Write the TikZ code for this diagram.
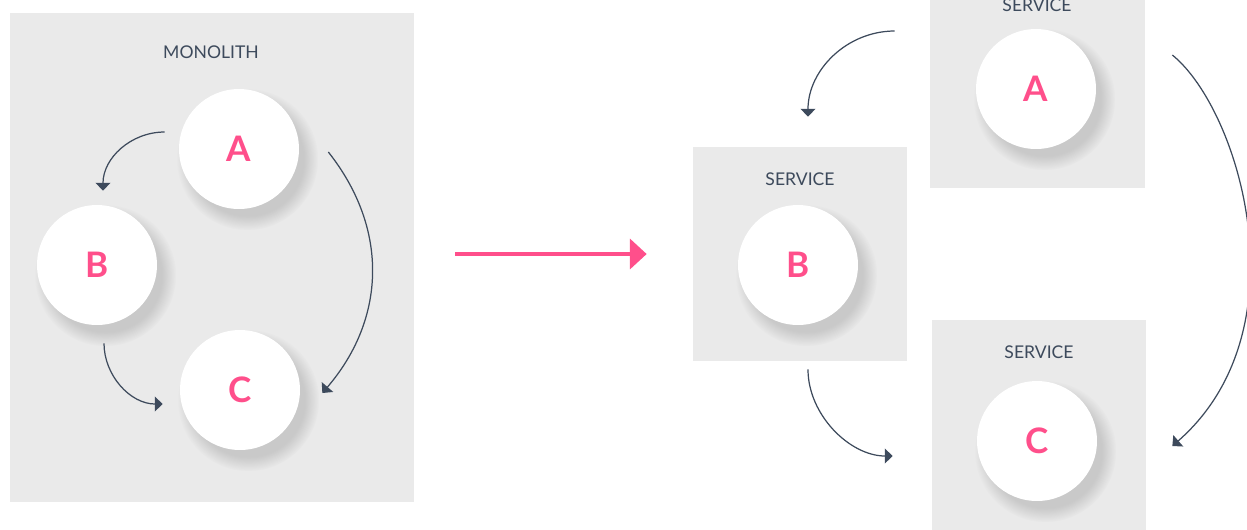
\documentclass[tikz,border=0pt]{standalone}
\usepackage{fontspec}
\setmainfont{Lato}
\definecolor{boxgray}{RGB}{234, 234, 234}
\definecolor{inkslate}{RGB}{61, 74, 92}
\definecolor{hotpink}{RGB}{255, 79, 139}
\usetikzlibrary{shapes, arrows.meta, positioning, calc, shadows, fadings}

\begin{document}
\begin{tikzpicture}[x=0.02cm, y=-0.02cm,
  panel/.style={fill=boxgray, inner sep=0pt},
  tag/.style={font=\fontsize{10}{12}\selectfont, text=inkslate},
  part/.style={circle, fill=white, minimum size=2.4cm, inner sep=0pt, text=hotpink,
    font=\fontsize{20}{24}\selectfont\bfseries,
    circular drop shadow={shadow xshift=4pt, shadow yshift=-5pt, shadow scale=1.18,
      opacity=.3, path fading={circle with fuzzy edge 20 percent}}},
  flow/.style={draw=inkslate, line width=0.7pt, -{Triangle[width=8.5pt, length=4.5pt]}},
  split/.style={draw=hotpink, line width=2pt, -{Triangle[width=17pt, length=9.5pt]}}]
  \clip (0, 0) rectangle (1247, 529);

  % The monolith
  \node[panel, minimum width=8.08cm, minimum height=9.78cm] (mono) at (212, 257.5) {};
  \node[tag] (monotag) at (211, 52) {MONOLITH};
  \node[part] (mA) at (239, 149) {A};
  \node[part] (mB) at (97, 265) {B};
  \node[part] (mC) at (240, 390) {C};

  \draw[flow] ([shift={(-14,-17)}]mA.west) .. controls (131, 132) and (103, 158) .. ([shift={(6,-14)}]mB.north);
  \draw[flow] ([shift={(29,3)}]mA.east) .. controls (390, 230) and (385, 320) .. ([shift={(22,3)}]mC.east);
  \draw[flow] ([shift={(7,18)}]mB.south) .. controls (104, 375) and (130, 404) .. ([shift={(-17,14)}]mC.west);

  % The services
  \node[panel, minimum size=4.28cm] (boxB) at (800, 254) {};
  \node[panel, minimum size=4.3cm] (boxA) at (1037.5, 80.5) {};
  \node[panel, minimum size=4.3cm] (boxC) at (1039, 427.5) {};
  \node[tag] (tagB) at (800, 179) {SERVICE};
  \node[tag] (tagA) at (1037, 5) {SERVICE};
  \node[tag] (tagC) at (1039, 352) {SERVICE};
  \node[part] (sA) at (1036, 89) {A};
  \node[part] (sB) at (798, 265) {B};
  \node[part] (sC) at (1037, 441) {C};

  \draw[flow] ([shift={(-81,-58)}]sA.west) .. controls (847, 31) and (808, 70) .. ([shift={(8,-30)}]boxB.north);
  \draw[flow] ([shift={(76,-34)}]sA.east) .. controls (1240, 110) and (1305, 330) .. ([shift={(75,5)}]sC.east);
  \draw[flow] ([shift={(8,8)}]boxB.south) .. controls (808, 415) and (850, 456) .. ([shift={(-84,15)}]sC.west);

  % Monolith to services
  \draw[split] ([shift={(41,0)}]mono.east |- boxB.west) -- ([shift={(-46,0)}]boxB.west);
\end{tikzpicture}
\end{document}
